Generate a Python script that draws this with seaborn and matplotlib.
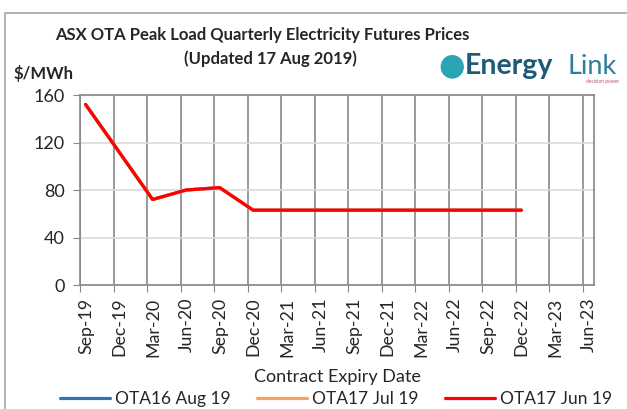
import numpy as np
import pandas as pd
import matplotlib
matplotlib.use("Agg")
import matplotlib.pyplot as plt
import matplotlib.transforms as mtransforms
from matplotlib.patches import Rectangle
import seaborn as sns

# contract quarters (month index from Sep-19, month slot centre)
contracts = ["Sep-19", "Dec-19", "Mar-20", "Jun-20", "Sep-20", "Dec-20", "Mar-21",
             "Jun-21", "Sep-21", "Dec-21", "Mar-22", "Jun-22", "Sep-22", "Dec-22"]
ota16_aug19 = [152, 112, 72, 80, 82, 63, 63, 63, 63, 63, 63, 63, 63, 63]
ota17_jul19 = [152, 112, 72, 80, 82, 63, 63, 63, 63, 63, 63, 63, 63, 63]
ota17_jun19 = [152, 112, 72, 80, 82, 63, 63, 63, 63, 63, 63, 63, 63, 63]
tick_labels = ["Sep-19", "Dec-19", "Mar-20", "Jun-20", "Sep-20", "Dec-20", "Mar-21", "Jun-21",
               "Sep-21", "Dec-21", "Mar-22", "Jun-22", "Sep-22", "Dec-22", "Mar-23", "Jun-23"]
series_names = ["OTA16 Aug 19", "OTA17 Jul 19", "OTA17 Jun 19"]
series_colors = ["#2f75b5", "#f8a25c", "#ff0000"]

sns.set_style("white")
plt.rcParams["font.family"] = ["Lato", "DejaVu Sans"]

rows = []
for name, vals in zip(series_names, [ota16_aug19, ota17_jul19, ota17_jun19]):
    for i, (c, v) in enumerate(zip(contracts, vals)):
        rows.append({"month": i * 3 + 0.5, "price": v, "series": name})
df = pd.DataFrame(rows)

fig = plt.figure(figsize=(6.27, 4.09), dpi=100)
ax = fig.add_axes([80 / 627, 1 - 285 / 409, 514 / 627, 190 / 409])

sns.lineplot(data=df, x="month", y="price", hue="series", hue_order=series_names,
             palette=series_colors, linewidth=2.3, ax=ax, legend=False)

grey = "#878787"
ax.set_xlim(0, 46)
ax.set_ylim(0, 160)
ax.set_yticks([0, 40, 80, 120, 160])
ax.set_xticks(np.arange(len(tick_labels)) * 3)
ax.set_xticklabels(tick_labels, rotation=90, fontsize=12.8)
ax.tick_params(axis="y", labelsize=13, length=5, color=grey, direction="out", left=True, pad=6)
ax.tick_params(axis="x", length=5, color=grey, direction="out", bottom=True, pad=4)
shift = mtransforms.ScaledTranslation(6 / 100, 0, fig.dpi_scale_trans)
for lab in ax.get_xticklabels():
    lab.set_transform(lab.get_transform() + shift)
ax.yaxis.grid(True, color="#d9d9d9", linewidth=1.2)
ax.xaxis.grid(True, color=grey, linewidth=1.2)
ax.set_axisbelow(True)
for s in ax.spines.values():
    s.set_color(grey)
    s.set_linewidth(1.2)
ax.set_xlabel("Contract Expiry Date", fontsize=13, labelpad=9)
ax.set_ylabel("")

# chart border (right and bottom edges fall outside the image)
fig.patches.append(Rectangle((5 / 627, -0.05), 1.0, 1 - 13 / 409 + 0.05,
                             transform=fig.transFigure, fill=False,
                             edgecolor="#a6a6a6", linewidth=1.2))

fig.text(262 / 627, 1 - 35 / 409, "ASX OTA Peak Load Quarterly Electricity Futures Prices",
         ha="center", va="center", fontsize=12, fontweight="bold")
fig.text(270 / 627, 1 - 59 / 409, "(Updated 17 Aug 2019)",
         ha="center", va="center", fontsize=12, fontweight="bold")
fig.text(14 / 627, 1 - 73 / 409, "$/MWh", ha="left", va="center", fontsize=12, fontweight="bold")

# logo
fig.text(452 / 627, 1 - 66 / 409, "\u25CF", ha="center", va="center", fontsize=22,
         color="#2aa3b3", family=["DejaVu Sans"])
fig.text(465 / 627, 1 - 66 / 409, "Energy", ha="left", va="center", fontsize=20.5,
         fontweight="bold", color="#1d5c78")
fig.text(567 / 627, 1 - 66 / 409, "Link", ha="left", va="center", fontsize=19.5,
         color="#2d7fa0")
fig.text(619 / 627, 1 - 81 / 409, "decision power", ha="right", va="center", fontsize=3.5,
         color="#b0506a")

handles = [plt.Line2D([], [], color=c, linewidth=2.3) for c in series_colors]
fig.legend(handles, series_names, loc="center", bbox_to_anchor=(336 / 627, 1 - 399 / 409),
           ncol=3, frameon=False, fontsize=12.5, handlelength=2.9, handletextpad=0.3,
           columnspacing=1.5, borderpad=0, borderaxespad=0)

fig.savefig("out.png", dpi=100)
